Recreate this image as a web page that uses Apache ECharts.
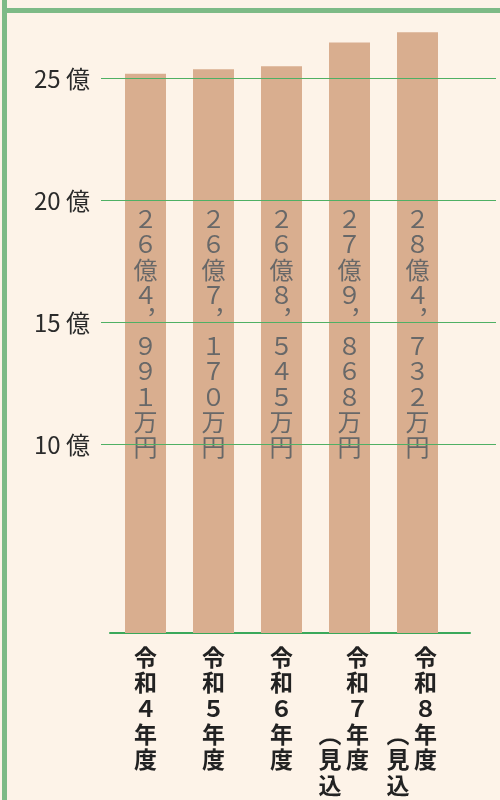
<!DOCTYPE html>
<html><head><meta charset="utf-8">
<script src="https://cdn.jsdelivr.net/npm/echarts@6/dist/echarts.min.js"></script>
<style>html,body{margin:0;padding:0;background:#fdf3e8}#c{width:500px;height:800px}</style>
</head><body><div id="c"></div>
<script>
// ---- data ----
const categories = ['令和4年度', '令和5年度', '令和6年度', '令和7年度', '令和8年度'];
const categoryNotes = ['', '', '', '（見込）', '（見込）'];
const valuesManYen = [264991, 267170, 268545, 279868, 284732]; // 万円
const tickLabels = [10, 15, 20, 25]; // 億
const tickUnit = '億';

// ---- helpers ----
const FONT = '"Noto Sans CJK JP", "Noto Sans", sans-serif';
const fw = s => String(s).replace(/[0-9]/g, d => String.fromCharCode(d.charCodeAt(0) + 0xFEE0));
function yenLabel(v) {
  const oku = Math.floor(v / 10000), man = v % 10000;
  const thou = Math.floor(man / 1000), rest = String(man % 1000).padStart(3, '0');
  const s = fw(oku) + '億' + fw(thou) + '︐' + fw(rest) + '万円';
  return s.split('').join('\n');
}
function catLabel(value, idx) {
  const main = fw(value).split('');
  const note = categoryNotes[idx];
  if (!note) return main.join('\n');
  const noteChars = note.replace('（', '︵').replace('）', '︶').split('');
  const start = 3, rows = [];
  const n = Math.max(main.length, start + noteChars.length);
  for (let r = 0; r < n; r++) {
    const c1 = main[r] || '\u3000';
    const c2 = (r >= start && noteChars[r - start]) ? noteChars[r - start] : '\u3000';
    rows.push(c2 + '\u2009' + c1 + '\u2002');
  }
  return rows.join('\n');
}
const GREEN = '#4fb064';
const lowTicks = tickLabels.filter(v => v < 20);   // drawn behind bars
const highTicks = tickLabels.filter(v => v >= 20); // drawn over bars
const gridLine = (ticks, z) => ({
  type: 'line', xAxisIndex: 1, yAxisIndex: 1, data: [], z: z, silent: true,
  markLine: {symbol: 'none', silent: true, animation: false, label: {show: false},
    lineStyle: {color: GREEN, width: 1, type: 'solid'},
    emphasis: {disabled: true},
    data: ticks.map(v => ({yAxis: v}))}
});

const chart = echarts.init(document.getElementById('c'), null, {renderer: 'canvas'});
chart.setOption({
  backgroundColor: '#fdf3e8',
  animation: false,
  grid: [
    {left: 111.5, width: 340, top: 0, bottom: 167, outerBoundsMode: 'none', containLabel: false},
    {left: 101, right: 4, top: 78.5, height: 488, outerBoundsMode: 'none', containLabel: false},
    {left: 110, right: 30, top: 631, height: 2, outerBoundsMode: 'none', containLabel: false}
  ],
  xAxis: [
    {type: 'category', gridIndex: 0, data: categories,
     axisLine: {show: false}, axisTick: {show: false}, splitLine: {show: false},
     axisLabel: {interval: 0, margin: 11, formatter: catLabel, fontFamily: FONT,
       fontSize: 23, fontWeight: 'bold', lineHeight: 25.7, color: '#222', align: 'center'}},
    {type: 'value', gridIndex: 1, min: 0, max: 1, show: false},
    {type: 'value', gridIndex: 2, min: 0, max: 1, position: 'bottom',
     axisLine: {show: true, lineStyle: {color: '#3aa85a', width: 2}},
     axisTick: {show: false}, axisLabel: {show: false}, splitLine: {show: false}}
  ],
  yAxis: [
    {type: 'value', gridIndex: 0, min: 0, max: 30, show: false},
    {type: 'value', gridIndex: 1, min: 5, max: 25, interval: 5,
     axisLine: {show: false}, axisTick: {show: false}, splitLine: {show: false},
     axisLabel: {margin: 11, fontFamily: FONT, fontSize: 24, color: '#2b2b2b',
       formatter: v => tickLabels.includes(v) ? v + ' ' + tickUnit : ''}},
    {type: 'value', gridIndex: 2, min: 0, max: 1, show: false}
  ],
  series: [
    gridLine(lowTicks, 1),
    {
      type: 'bar', xAxisIndex: 0, yAxisIndex: 0, z: 2,
      data: valuesManYen.map(v => v / 10000),
      barWidth: 41,
      itemStyle: {color: '#d9ae8f'},
      label: {show: true, position: 'insideBottom', distance: 173,
        formatter: p => yenLabel(valuesManYen[p.dataIndex]),
        fontFamily: FONT, fontSize: 24, lineHeight: 25.4, color: '#686868'}
    },
    gridLine(highTicks, 3)
  ],
  graphic: [
    {type: 'rect', z: 100, shape: {x: 2, y: 0, width: 5, height: 800}, style: {fill: '#7dba86'}},
    {type: 'rect', z: 100, shape: {x: 2, y: 8, width: 498, height: 5}, style: {fill: '#7dba86'}}
  ]
});
</script>
</body></html>
